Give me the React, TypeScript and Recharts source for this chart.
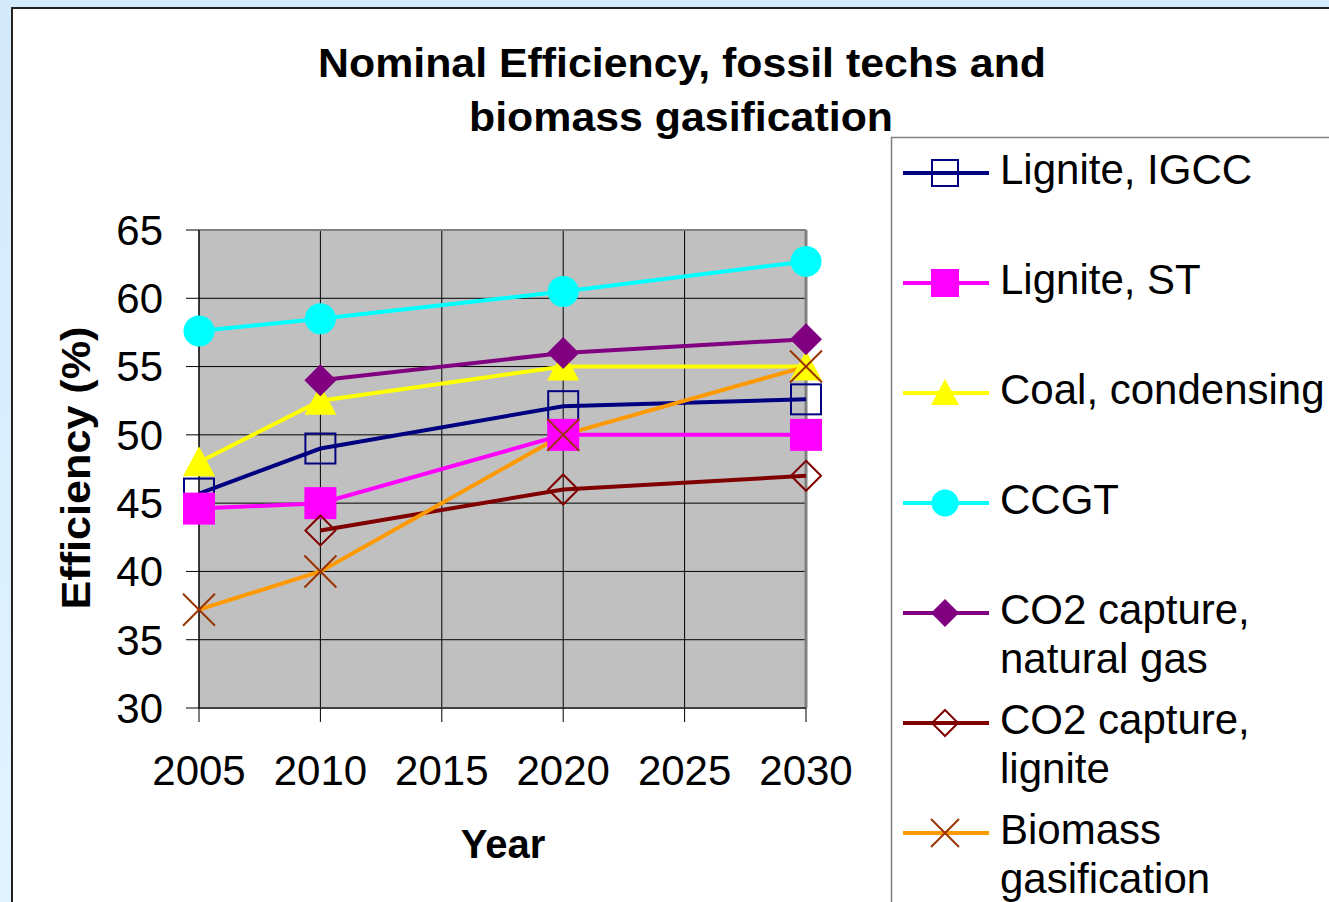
import React from 'react';
import {
  LineChart,
  Line,
  XAxis,
  YAxis,
  CartesianGrid,
  ReferenceLine,
} from 'recharts';

const years = [2005, 2010, 2020, 2030];
const yearTicks = [2005, 2010, 2015, 2020, 2025, 2030];
const effTicks = [30, 35, 40, 45, 50, 55, 60, 65];

const lignIgcc = [45.7, 49, 52.1, 52.6];
const lignSt = [44.6, 45, 50, 50];
const coalCond = [48, 52.5, 55, 55];
const ccgt = [57.6, 58.5, 60.5, 62.7];
const co2Gas = [null, 54, 56, 57];
const co2Lignite = [null, 43, 46, 47];
const biomass = [37.2, 40, 50, 55];

const FONT = '"Liberation Sans", Arial, sans-serif';

type MarkerKind = 'squareOpen' | 'square' | 'triangle' | 'circle' | 'diamond' | 'diamondOpen' | 'cross';

const series: Array<{ key: string; label: string[]; color: string; marker: MarkerKind; mark: string }> = [
  { key: 'igcc', label: ['Lignite, IGCC'], color: '#000080', marker: 'squareOpen', mark: '#000080' },
  { key: 'st', label: ['Lignite, ST'], color: '#FF00FF', marker: 'square', mark: '#FF00FF' },
  { key: 'coal', label: ['Coal, condensing'], color: '#FFFF00', marker: 'triangle', mark: '#FFFF00' },
  { key: 'ccgt', label: ['CCGT'], color: '#00FFFF', marker: 'circle', mark: '#00FFFF' },
  { key: 'co2gas', label: ['CO2 capture,', 'natural gas'], color: '#800080', marker: 'diamond', mark: '#800080' },
  { key: 'co2lig', label: ['CO2 capture,', 'lignite'], color: '#800000', marker: 'diamondOpen', mark: '#800000' },
  { key: 'bio', label: ['Biomass', 'gasification'], color: '#FF9900', marker: 'cross', mark: '#993300' },
];

const data = years.map((year, i) => ({
  year,
  igcc: lignIgcc[i],
  st: lignSt[i],
  coal: coalCond[i],
  ccgt: ccgt[i],
  co2gas: co2Gas[i],
  co2lig: co2Lignite[i],
  bio: biomass[i],
}));

// draws one marker shape centred on (cx, cy); s is the half size
const Marker = ({ kind, cx, cy, color, s }: { kind: MarkerKind; cx: number; cy: number; color: string; s: number }) => {
  switch (kind) {
    case 'squareOpen':
      return <rect x={cx - s + 1} y={cy - s + 1} width={2 * s - 2} height={2 * s - 2} fill="none" stroke={color} strokeWidth={2} />;
    case 'square':
      return <rect x={cx - s} y={cy - s} width={2 * s} height={2 * s} fill={color} />;
    case 'triangle':
      return <polygon points={`${cx},${cy - s} ${cx + s},${cy + s - 2} ${cx - s},${cy + s - 2}`} fill={color} />;
    case 'circle':
      return <circle cx={cx} cy={cy} r={s - 0.5} fill={color} />;
    case 'diamond':
      return <polygon points={`${cx},${cy - s} ${cx + s},${cy} ${cx},${cy + s} ${cx - s},${cy}`} fill={color} />;
    case 'diamondOpen':
      return <polygon points={`${cx},${cy - s + 1} ${cx + s - 1},${cy} ${cx},${cy + s - 1} ${cx - s + 1},${cy}`} fill="none" stroke={color} strokeWidth={2} />;
    case 'cross':
      return (
        <g stroke={color} strokeWidth={2}>
          <line x1={cx - s} y1={cy - s} x2={cx + s} y2={cy + s} />
          <line x1={cx - s} y1={cy + s} x2={cx + s} y2={cy - s} />
        </g>
      );
  }
  return null;
};

const makeDot = (kind: MarkerKind, color: string, name: string) => (props: any) => {
  const { cx, cy, value, index } = props;
  if (value == null || cx == null || cy == null) return <g key={`${name}-${index}`} />;
  return (
    <g key={`${name}-${index}`}>
      <Marker kind={kind} cx={cx} cy={cy} color={color} s={16} />
    </g>
  );
};

const legendRowY = [173, 283, 393, 503, 613, 723, 833];

export default function App() {
  return (
    <div
      style={{
        position: 'absolute',
        left: 0,
        top: 0,
        width: 1329,
        height: 902,
        overflow: 'hidden',
        background: 'linear-gradient(#d3eafc, #e2f3ff)',
        fontFamily: FONT,
      }}
    >
      <div
        style={{
          position: 'absolute',
          left: 11,
          top: 7,
          width: 1400,
          height: 1000,
          background: '#fff',
          border: '2px solid #222',
        }}
      />
      <div style={{ position: 'absolute', left: 0, top: 0 }}>
        <LineChart width={1329} height={902} data={data} margin={{ top: 230, right: 523, bottom: 0, left: 0 }}>
          <CartesianGrid stroke="#000" strokeWidth={1} fill="#c0c0c0" fillOpacity={1} />
          <XAxis
            type="number"
            dataKey="year"
            domain={[2005, 2030]}
            ticks={yearTicks}
            height={194}
            stroke="#404040"
            strokeWidth={2}
            tickLine={{ stroke: '#000', strokeWidth: 1 }}
            tickSize={14}
            tickMargin={33}
            tick={{ fill: '#000', fontSize: 42, fontFamily: FONT }}
            interval={0}
          />
          <YAxis
            type="number"
            domain={[30, 65]}
            ticks={effTicks}
            width={199}
            stroke="#000"
            tickLine={{ stroke: '#000', strokeWidth: 1 }}
            tickSize={13}
            tickMargin={23}
            tick={{ fill: '#000', fontSize: 42, fontFamily: FONT }}
            interval={0}
          />
          <ReferenceLine y={65} stroke="#808080" strokeWidth={2} />
          <ReferenceLine x={2030} stroke="#808080" strokeWidth={3} />
          {series.map((s) => (
            <Line
              key={s.key}
              dataKey={s.key}
              stroke={s.color}
              strokeWidth={4}
              dot={makeDot(s.marker, s.mark, s.key)}
              activeDot={false}
              isAnimationActive={false}
            />
          ))}
        </LineChart>
      </div>
      <svg
        width={1329}
        height={902}
        style={{ position: 'absolute', left: 0, top: 0, pointerEvents: 'none' }}
        fontFamily={FONT}
      >
        <text x={682} y={77} textAnchor="middle" fontSize={40} fontWeight="bold" textLength={728} lengthAdjust="spacingAndGlyphs">
          Nominal Efficiency, fossil techs and
        </text>
        <text x={681} y={131} textAnchor="middle" fontSize={40} fontWeight="bold" textLength={424} lengthAdjust="spacingAndGlyphs">
          biomass gasification
        </text>
        <text
          transform="translate(90,468) rotate(-90)"
          textAnchor="middle"
          fontSize={40}
          fontWeight="bold"
          textLength={283}
          lengthAdjust="spacingAndGlyphs"
        >
          Efficiency (%)
        </text>
        <text x={503} y={858} textAnchor="middle" fontSize={40} fontWeight="bold">
          Year
        </text>

        <rect x={891.5} y={137.5} width={500} height={800} fill="#fff" stroke="#808080" strokeWidth={1.5} />
        {series.map((s, i) => {
          const y = legendRowY[i];
          return (
            <g key={s.key}>
              <line x1={903} y1={y} x2={989} y2={y} stroke={s.color} strokeWidth={4} />
              <Marker kind={s.marker} cx={945} cy={y} color={s.mark} s={14} />
              {s.label.map((t, j) => (
                <text key={j} x={1000} y={y + 11 + j * 49} fontSize={42} fill="#000">
                  {t}
                </text>
              ))}
            </g>
          );
        })}
      </svg>
    </div>
  );
}
